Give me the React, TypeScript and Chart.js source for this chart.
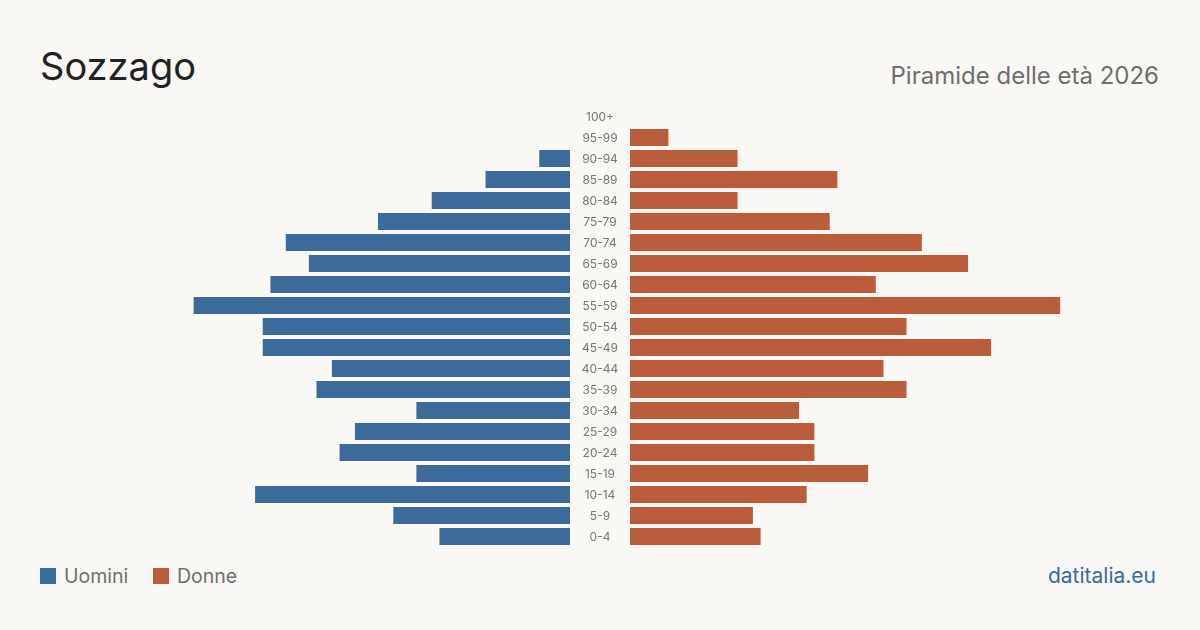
import React, { useEffect, useRef } from "react";
import { Chart, registerables } from "chart.js";

Chart.register(...registerables);

// Age classes, top to bottom
const ageGroups = [
  "100+", "95-99", "90-94", "85-89", "80-84", "75-79", "70-74", "65-69",
  "60-64", "55-59", "50-54", "45-49", "40-44", "35-39", "30-34", "25-29",
  "20-24", "15-19", "10-14", "5-9", "0-4",
];

// Residents by age class
const men = [0, 0, 4, 11, 18, 25, 37, 34, 39, 49, 40, 40, 31, 33, 20, 28, 30, 20, 41, 23, 17];
const women = [0, 5, 14, 27, 14, 26, 38, 44, 32, 56, 36, 47, 33, 36, 22, 24, 24, 31, 23, 16, 17];

const AXIS_MAX = 69;

const BG = "#f9f8f4";
const BLUE = "#3c6b9b";
const ORANGE = "#b95d3d";
const FONT = "Inter, 'Noto Sans', sans-serif";

// Draws the age class labels in the gap between the two halves
const centerLabels = {
  id: "centerLabels",
  afterDraw(chart: any) {
    const { ctx, chartArea, scales } = chart;
    const y = scales.y;
    ctx.save();
    ctx.font = `12px ${FONT}`;
    ctx.fillStyle = "#777777";
    ctx.textAlign = "center";
    ctx.textBaseline = "middle";
    ageGroups.forEach((label, i) => {
      ctx.fillText(label, chartArea.left - 30, y.getPixelForValue(i) + 0.5);
    });
    ctx.restore();
  },
};

function makeOptions(reverse: boolean, padLeft: number) {
  return {
    indexAxis: "y" as const,
    animation: false as const,
    responsive: false,
    maintainAspectRatio: false,
    layout: { padding: { left: padLeft, right: 0, top: 0, bottom: 0 } },
    plugins: { legend: { display: false }, tooltip: { enabled: false } },
    scales: {
      x: { display: false, min: 0, max: AXIS_MAX, reverse },
      y: { display: false },
    },
  };
}

export default function App() {
  const leftRef = useRef<HTMLCanvasElement>(null);
  const rightRef = useRef<HTMLCanvasElement>(null);

  useEffect(() => {
    document.body.style.margin = "0";
    const left = new Chart(leftRef.current!, {
      type: "bar",
      data: {
        labels: ageGroups,
        datasets: [
          {
            label: "Uomini",
            data: men,
            backgroundColor: BLUE,
            categoryPercentage: 1,
            barPercentage: 17 / 21,
          },
        ],
      },
      options: makeOptions(true, 0) as any,
    });
    const right = new Chart(rightRef.current!, {
      type: "bar",
      data: {
        labels: ageGroups,
        datasets: [
          {
            label: "Donne",
            data: women,
            backgroundColor: ORANGE,
            categoryPercentage: 1,
            barPercentage: 17 / 21,
          },
        ],
      },
      options: makeOptions(false, 60) as any,
      plugins: [centerLabels],
    });
    return () => {
      left.destroy();
      right.destroy();
    };
  }, []);

  const text = (style: React.CSSProperties, content: string) => (
    <div style={{ position: "absolute", lineHeight: 1, whiteSpace: "nowrap", fontFamily: FONT, ...style }}>
      {content}
    </div>
  );

  return (
    <div style={{ position: "absolute", left: 0, top: 0, width: 1200, height: 630, background: BG, overflow: "hidden" }}>
      {text({ left: 40, top: 47, fontSize: 38, color: "#222222" }, "Sozzago")}
      {text({ right: 41, top: 64, fontSize: 24, color: "#6e6e6e" }, "Piramide delle età 2026")}
      <canvas
        ref={leftRef}
        width={530}
        height={441}
        style={{ position: "absolute", left: 40, top: 106, width: 530, height: 441 }}
      />
      <canvas
        ref={rightRef}
        width={590}
        height={441}
        style={{ position: "absolute", left: 570, top: 106, width: 590, height: 441 }}
      />
      <div style={{ position: "absolute", left: 40, top: 568, width: 16, height: 16, background: BLUE }} />
      {text({ left: 64, top: 567, fontSize: 19.5, color: "#6e6e6e" }, "Uomini")}
      <div style={{ position: "absolute", left: 153, top: 568, width: 16, height: 16, background: ORANGE }} />
      {text({ left: 177, top: 567, fontSize: 19.5, color: "#6e6e6e" }, "Donne")}
      {text({ right: 44, top: 565, fontSize: 21, color: BLUE }, "datitalia.eu")}
    </div>
  );
}
